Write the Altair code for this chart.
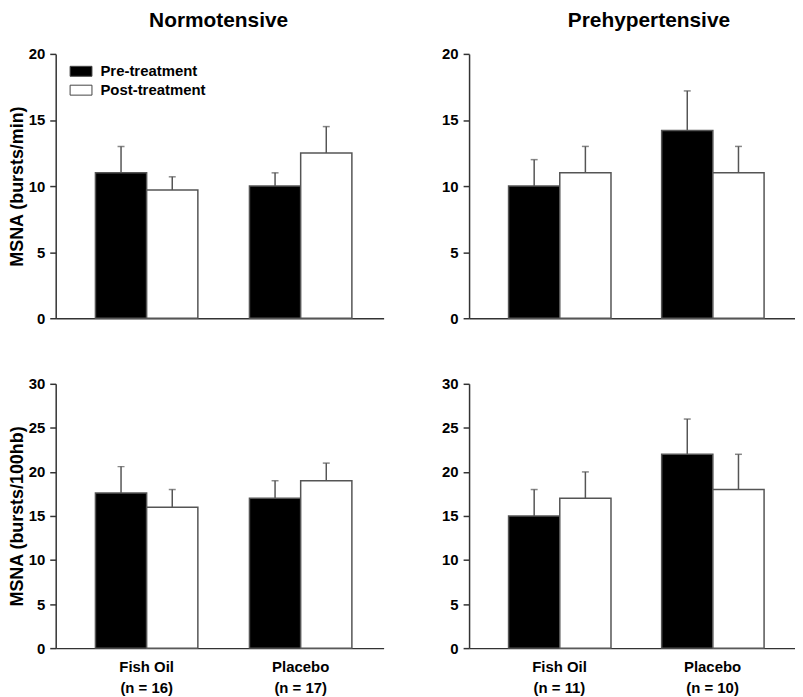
import altair as alt
import pandas as pd

groups = ["Fish Oil", "Placebo"]
treatments = ["Pre-treatment", "Post-treatment"]
n_normo = [16, 17]
n_prehyp = [11, 10]

# order: Fish Oil pre, Fish Oil post, Placebo pre, Placebo post
normo_min_mean = [11.0, 9.7, 10.0, 12.5]
normo_min_err = [2.0, 1.0, 1.0, 2.0]
prehyp_min_mean = [10.0, 11.0, 14.2, 11.0]
prehyp_min_err = [2.0, 2.0, 3.0, 2.0]
normo_hb_mean = [17.6, 16.0, 17.0, 19.0]
normo_hb_err = [3.0, 2.0, 2.0, 2.0]
prehyp_hb_mean = [15.0, 17.0, 22.0, 18.0]
prehyp_hb_err = [3.0, 3.0, 4.0, 4.0]

ticks_min = [0, 5, 10, 15, 20]
ticks_hb = [0, 5, 10, 15, 20, 25, 30]

FONT = "Liberation Sans"


def frame(means, errs, ns):
    rows = []
    for gi, g in enumerate(groups):
        for ti, t in enumerate(treatments):
            k = gi * 2 + ti
            rows.append(dict(group=f"{g}|(n = {ns[gi]})", treatment=t,
                             mean=means[k], upper=means[k] + errs[k]))
    return pd.DataFrame(rows)


def panel(df, ymax, yvals, ytitle, show_x, w, h, title=None, title_dx=0, legend=None):
    xscale = alt.Scale(paddingInner=0.335, paddingOuter=0.232, align=0.556)
    xaxis = alt.Axis(labels=show_x, ticks=False, title=None, labelAngle=0,
                     labelExpr="split(datum.label, '|')", labelPadding=12,
                     labelLineHeight=21)
    x = alt.X("group:N", sort=None, scale=xscale, axis=xaxis)
    xo = alt.XOffset("treatment:N", sort=treatments)
    yaxis_kwargs = dict(values=yvals, tickSize=6, labelPadding=5)
    if ytitle:
        yaxis_kwargs.update(title=ytitle, titlePadding=2)
    else:
        yaxis_kwargs.update(title=None)
    y = alt.Y("mean:Q", scale=alt.Scale(domain=[0, ymax], nice=False),
              axis=alt.Axis(**yaxis_kwargs))
    fill_kwargs = dict(sort=treatments,
                       scale=alt.Scale(domain=treatments, range=["black", "white"]))
    fill_kwargs["legend"] = legend
    base = alt.Chart(df)
    bars = base.mark_bar(stroke="#555", strokeWidth=1.5).encode(
        x=x, y=y, xOffset=xo, fill=alt.Fill("treatment:N", **fill_kwargs))
    rules = base.mark_rule(color="#555", strokeWidth=1.5).encode(
        x=x, xOffset=xo, y="mean:Q", y2="upper:Q")
    caps = base.mark_tick(color="#555", thickness=1.5, size=7).encode(
        x=x, xOffset=xo, y="upper:Q")
    props = dict(width=w, height=h)
    if title:
        props["title"] = alt.TitleParams(title, fontSize=21, font=FONT, fontWeight="bold",
                                         frame="group", offset=16, dx=title_dx, color="black")
    return alt.layer(bars, rules, caps).properties(**props)


legend = alt.Legend(title=None, orient="none", legendX=15, legendY=7,
                    symbolType="M-1.1,-0.5H1.1V0.5H-1.1Z", symbolSize=400,
                    symbolStrokeColor="#444", symbolStrokeWidth=1,
                    labelFont=FONT, labelFontSize=15, labelFontWeight="bold",
                    labelColor="black", labelOffset=9, rowPadding=0, padding=0)

p1 = panel(frame(normo_min_mean, normo_min_err, n_normo), 20, ticks_min,
           "MSNA (bursts/min)", False, 330, 266, title="Normotensive", title_dx=-1,
           legend=legend)
p2 = panel(frame(prehyp_min_mean, prehyp_min_err, n_prehyp), 20, ticks_min,
           None, False, 328, 266, title="Prehypertensive", title_dx=17)
p3 = panel(frame(normo_hb_mean, normo_hb_err, n_normo), 30, ticks_hb,
           "MSNA (bursts/100hb)", True, 330, 266)
p4 = panel(frame(prehyp_hb_mean, prehyp_hb_err, n_prehyp), 30, ticks_hb,
           None, True, 328, 266)

chart = alt.concat(p1, p2, p3, p4, columns=2, bounds="flush",
                   spacing={"row": 66, "column": 86}).resolve_scale(
    fill="independent").resolve_legend(fill="independent").properties(
    padding={"left": 0, "top": 0, "right": 0, "bottom": 0}
).configure_view(stroke=None).configure_axis(
    grid=False, domainColor="#333", domainWidth=1.5, tickColor="#333", tickWidth=1.5,
    labelFont=FONT, labelFontSize=15, labelFontWeight="bold", labelColor="black",
    titleFont=FONT, titleFontSize=18, titleFontWeight="bold", titleColor="black"
)

chart.save("out.html", embed_options={"renderer": "svg", "actions": False})
